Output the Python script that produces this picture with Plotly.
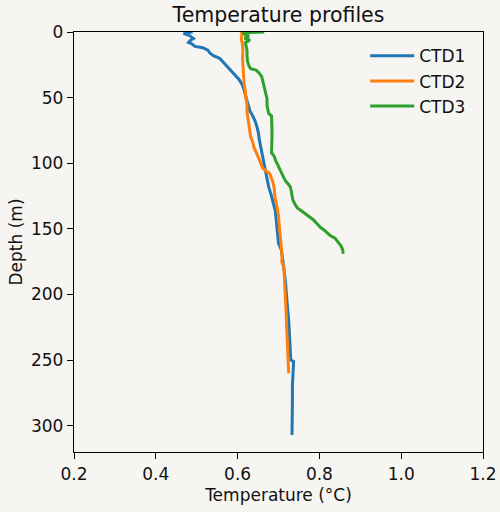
import plotly.graph_objects as go

# CTD1
depth1 = [0, 1, 3, 5, 6, 8, 9, 11, 12, 14, 16, 18, 20, 22, 24, 27, 30, 33, 36, 40, 44, 48, 52, 56, 60,
          64, 68, 72, 77, 82, 87, 92, 97, 102, 107, 112, 118, 124, 130, 136, 142, 148, 155, 161, 166,
          172, 180, 190, 200, 210, 220, 230, 238, 245, 250, 251, 256, 262, 270, 280, 290, 300, 307]
temp1 = [0.490, 0.468, 0.484, 0.492, 0.486, 0.480, 0.488, 0.496, 0.515, 0.528, 0.532, 0.541, 0.556,
         0.562, 0.568, 0.576, 0.586, 0.595, 0.603, 0.611, 0.616, 0.619, 0.623, 0.627, 0.630, 0.637,
         0.643, 0.647, 0.651, 0.653, 0.656, 0.659, 0.663, 0.666, 0.668, 0.672, 0.676, 0.682, 0.687,
         0.692, 0.694, 0.696, 0.698, 0.700, 0.707, 0.710, 0.713, 0.717, 0.719, 0.722, 0.725, 0.727,
         0.728, 0.729, 0.730, 0.737, 0.736, 0.734, 0.734, 0.734, 0.733, 0.733, 0.733]

# CTD2
depth2 = [0, 2, 5, 10, 15, 20, 25, 30, 35, 40, 45, 50, 55, 60, 65, 70, 75, 80, 84, 88, 92, 95, 98,
          101, 104, 106, 108, 111, 114, 118, 122, 127, 133, 140, 148, 156, 164, 171, 175, 179, 185,
          195, 205, 215, 225, 235, 245, 253, 260]
temp2 = [0.608, 0.611, 0.609, 0.612, 0.613, 0.612, 0.613, 0.614, 0.615, 0.616, 0.619, 0.620, 0.623,
         0.623, 0.625, 0.627, 0.629, 0.632, 0.637, 0.640, 0.646, 0.650, 0.655, 0.658, 0.662, 0.670,
         0.679, 0.682, 0.686, 0.689, 0.690, 0.692, 0.696, 0.700, 0.702, 0.705, 0.707, 0.709, 0.708,
         0.713, 0.714, 0.716, 0.717, 0.719, 0.720, 0.721, 0.722, 0.724, 0.725]

# CTD3
depth3 = [0, 0.5, 2, 3, 4, 5, 6, 7, 8, 10, 14, 18, 22, 26, 28, 29, 31, 34, 38, 42, 47, 51, 56, 60,
          62, 64, 68, 74, 80, 86, 90, 92, 95, 98, 101, 104, 107, 110, 113, 116, 118, 121, 125, 128,
          131, 134, 136, 138, 140, 143, 146, 149, 151, 153, 155, 157, 160, 163, 166, 169]
temp3 = [0.665, 0.615, 0.618, 0.628, 0.622, 0.617, 0.630, 0.626, 0.619, 0.620, 0.623, 0.623, 0.624,
         0.628, 0.632, 0.645, 0.652, 0.659, 0.662, 0.665, 0.668, 0.672, 0.672, 0.674, 0.676, 0.683,
         0.684, 0.684, 0.684, 0.683, 0.682, 0.683, 0.690, 0.693, 0.698, 0.703, 0.708, 0.713, 0.716,
         0.724, 0.729, 0.731, 0.734, 0.735, 0.740, 0.746, 0.755, 0.765, 0.772, 0.785, 0.793, 0.803,
         0.812, 0.819, 0.826, 0.838, 0.845, 0.853, 0.857, 0.858]

names = ["CTD1", "CTD2", "CTD3"]
colors = ["#1f77b4", "#ff7f0e", "#2ca02c"]

x_ticks = [0.2, 0.4, 0.6, 0.8, 1.0, 1.2]
y_ticks = [0, 50, 100, 150, 200, 250, 300]

bg = "#f7f5f2"
font_family = "DejaVu Sans"

fig = go.Figure()
for d, t, n, c in zip([depth1, depth2, depth3], [temp1, temp2, temp3], names, colors):
    fig.add_trace(go.Scatter(x=t, y=d, mode="lines", name=n,
                             line=dict(color=c, width=3)))

axis_common = dict(showline=True, linecolor="#000000", linewidth=1.3, mirror=True,
                   ticks="outside", ticklen=6, tickwidth=1.3, tickcolor="#000000",
                   showgrid=False, zeroline=False, automargin=False,
                   tickfont=dict(family=font_family, size=17, color="#111111"),
                   title_font=dict(family=font_family, size=17, color="#111111"))

fig.update_xaxes(range=[0.2, 1.2], tickvals=x_ticks, ticktext=["0.2", "0.4", "0.6", "0.8", "1.0", "1.2"],
                 title_text="Temperature (°C)", title_standoff=6, **axis_common)
fig.update_yaxes(range=[320, 0], tickvals=y_ticks,
                 title_text="Depth (m)", title_standoff=4, **axis_common)

fig.update_layout(
    width=500, height=512,
    margin=dict(l=74, r=17, t=32, b=60),
    paper_bgcolor=bg, plot_bgcolor=bg,
    font=dict(family=font_family, size=17, color="#111111"),
    title=dict(text="Temperature profiles", x=0.557, xanchor="center",
               y=0.971, yanchor="middle", yref="container",
               font=dict(family=font_family, size=20.5, color="#111111")),
    legend=dict(x=0.712, y=0.985, xanchor="left", yanchor="top",
                bgcolor="rgba(0,0,0,0)", borderwidth=0, itemwidth=44,
                font=dict(family=font_family, size=17, color="#111111"),
                tracegroupgap=0),
    showlegend=True,
)

fig.write_html("out.html")
